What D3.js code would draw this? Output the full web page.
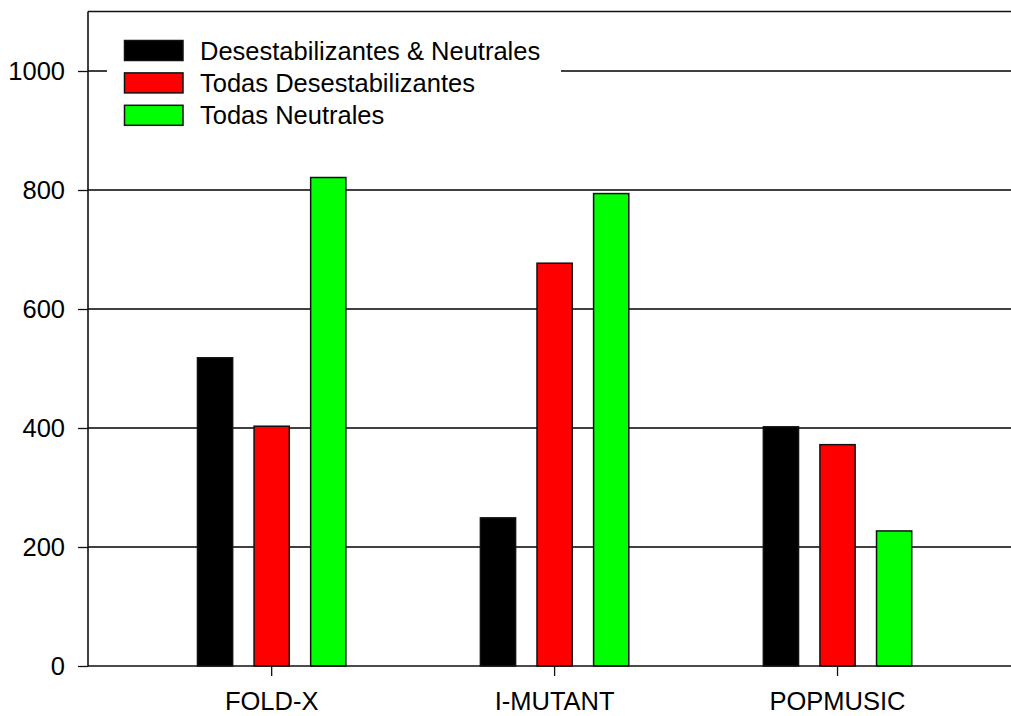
<!DOCTYPE html>
<html>
<head>
<meta charset="utf-8">
<script src="https://cdn.jsdelivr.net/npm/d3@7"></script>
<style>
html,body{margin:0;padding:0;background:#fff;}
svg{display:block;}
text{font-family:"Liberation Sans",Arial,sans-serif;fill:#000;}
</style>
</head>
<body>
<svg id="chart" width="1011" height="716"></svg>
<script>
const categories = ["FOLD-X", "I-MUTANT", "POPMUSIC"];
const seriesNames = ["Desestabilizantes & Neutrales", "Todas Desestabilizantes", "Todas Neutrales"];
const seriesColors = ["#000000", "#ff0000", "#00ff00"];
const desestNeutrales = [518, 249, 402];
const todasDesest = [403, 677, 372];
const todasNeutrales = [821, 794, 227];
const yTicks = [0, 200, 400, 600, 800, 1000];

const seriesValues = [desestNeutrales, todasDesest, todasNeutrales];

const plotLeft = 88, plotRight = 1011, plotTop = 11.5, plotBottom = 666;
const fs = 25.5;

const svg = d3.select("#chart");

const y = d3.scaleLinear().domain([0, 1100]).range([plotBottom, plotTop]);
const x0 = d3.scaleBand().domain(categories).range([130.2, 979]).padding(0);
const x1 = d3.scaleBand().domain(seriesNames).range([0, 148.4]).paddingInner(0.378).paddingOuter(0);
const groupOffset = (x0.bandwidth() - 148.4) / 2;

// gridlines
svg.append("g").selectAll("line").data(yTicks.filter(d => d > 0)).join("line")
  .attr("x1", plotLeft).attr("x2", plotRight)
  .attr("y1", d => y(d)).attr("y2", d => y(d))
  .attr("stroke", "#000").attr("stroke-width", 1.3);

// top frame
svg.append("line").attr("x1", plotLeft).attr("x2", plotRight).attr("y1", y(1100)).attr("y2", y(1100))
  .attr("stroke", "#111").attr("stroke-width", 1.5);

// bars
const groups = svg.append("g").selectAll("g").data(categories).join("g")
  .attr("transform", c => `translate(${x0(c) + groupOffset},0)`);
groups.selectAll("rect").data((c, ci) => seriesNames.map((s, si) => ({s, si, v: seriesValues[si][ci]}))).join("rect")
  .attr("x", d => x1(d.s))
  .attr("width", x1.bandwidth())
  .attr("y", d => y(d.v))
  .attr("height", d => y(0) - y(d.v))
  .attr("fill", d => seriesColors[d.si])
  .attr("stroke", "#111").attr("stroke-width", 1.5);

// y axis
const yAxis = d3.axisLeft(y).tickValues(yTicks).tickSize(10).tickPadding(13).tickFormat(d3.format("d"));
const gy = svg.append("g").attr("transform", `translate(${plotLeft},0)`).call(yAxis);
gy.select(".domain").remove();
gy.selectAll(".tick line").attr("stroke", "#111").attr("stroke-width", 1.3);
gy.selectAll("text").style("font-size", fs + "px").attr("font-family", null);
svg.append("line").attr("x1", plotLeft).attr("x2", plotLeft).attr("y1", y(1100)).attr("y2", plotBottom + 0.5)
  .attr("stroke", "#111").attr("stroke-width", 1.6);

// x axis
const xAxis = d3.axisBottom(x0).tickSize(10).tickPadding(16);
const gx = svg.append("g").attr("transform", `translate(0,${plotBottom})`).call(xAxis);
gx.select(".domain").remove();
gx.selectAll(".tick line").attr("stroke", "#111").attr("stroke-width", 1.3);
gx.selectAll("text").style("font-size", fs + "px").attr("font-family", null);
svg.append("line").attr("x1", plotLeft).attr("x2", plotRight).attr("y1", plotBottom).attr("y2", plotBottom)
  .attr("stroke", "#111").attr("stroke-width", 1.6);

// legend
const leg = svg.append("g");
leg.append("rect").attr("x", 107).attr("y", 28).attr("width", 454).attr("height", 108).attr("fill", "#fff");
const rows = leg.selectAll("g.row").data(seriesNames).join("g").attr("class", "row")
  .attr("transform", (d, i) => `translate(124.5,${40.5 + i * 32.4})`);
rows.append("rect").attr("width", 58.5).attr("height", 20)
  .attr("fill", (d, i) => seriesColors[i]).attr("stroke", "#111").attr("stroke-width", 1.5);
rows.append("text").attr("x", 75.5).attr("y", 10 + 0.358 * fs)
  .style("font-size", fs + "px").text(d => d);
</script>
</body>
</html>
